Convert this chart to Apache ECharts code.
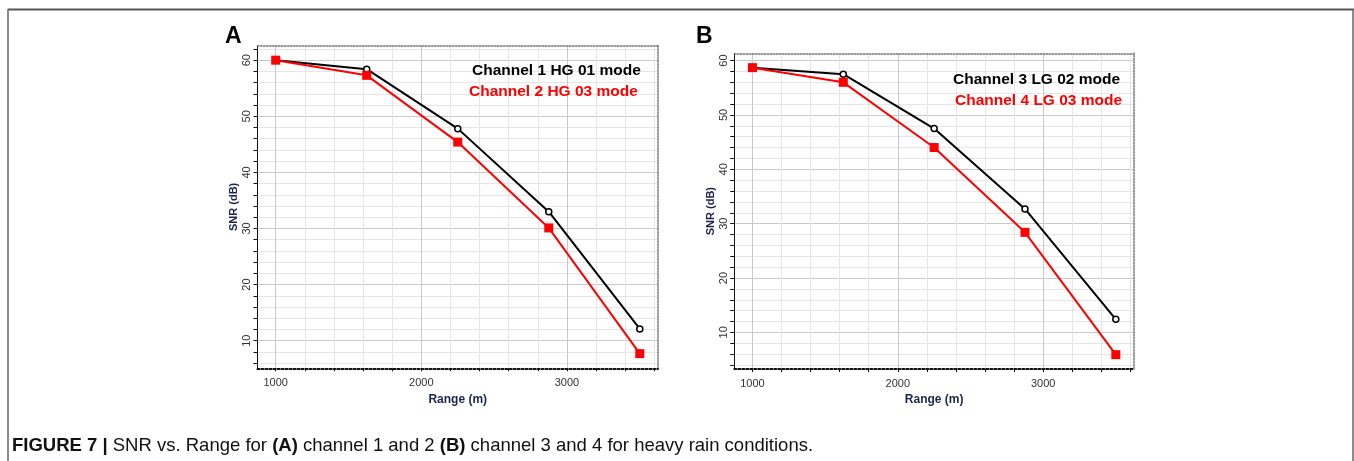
<!DOCTYPE html>
<html><head><meta charset="utf-8">
<script src="https://cdn.jsdelivr.net/npm/echarts@6/dist/echarts.min.js"></script>
<style>html,body{margin:0;padding:0;background:#fff}#c{width:1354px;height:461px}</style>
</head><body><div id="c"></div>
<script>
// ---- data ----
const rangeM = [1000, 1625, 2250, 2875, 3500];
const ch1 = [60, 58.4, 47.8, 33.0, 12.1];
const ch2 = [60, 57.3, 45.4, 30.1, 7.7];
const ch3 = [58.7, 57.5, 47.5, 32.7, 12.4];
const ch4 = [58.7, 56.0, 44.0, 28.4, 5.9];
const names = ['Channel 1 HG 01 mode', 'Channel 2 HG 03 mode', 'Channel 3 LG 02 mode', 'Channel 4 LG 03 mode'];
const xLabels = [1000, 2000, 3000];
const xTicks = [1000, 1200, 1400, 1600, 1800, 2000, 2200, 2400, 2600, 2800, 3000, 3200, 3400, 3600];
const yLabels = [10, 20, 30, 40, 50, 60];
const yTicks = [4, 6, 8, 10, 12, 14, 16, 18, 20, 22, 24, 26, 28, 30, 32, 34, 36, 38, 40, 42, 44, 46, 48, 50, 52, 54, 56, 58, 60, 62];
const xMin = 875, xMax = 3625;

const MAJOR = '#c9c9c9', MINOR = '#e6e6e6';
const FONT = 'Arial, "Liberation Sans", sans-serif';

function yRange(a, b) {
  const all = a.concat(b);
  const lo = Math.min(...all), hi = Math.max(...all);
  const pad = (hi - lo) * 0.05;
  return [lo - pad, hi + pad];
}

const grids = [
  {left: 257.5, top: 45.5, width: 400.5, height: 322.8},
  {left: 734.3, top: 53.3, width: 399.7, height: 315.7}
];
const panels = [[ch1, ch2], [ch3, ch4]];

const option = {
  animation: false,
  backgroundColor: '#fff',
  grid: grids,
  xAxis: [], yAxis: [], series: [], legend: [],
  graphic: []
};

panels.forEach((p, gi) => {
  const [ymin, ymax] = yRange(p[0], p[1]);
  const yt = yTicks.filter(v => v >= ymin && v <= ymax);
  const yColors = yt.slice(0, 5).map(v => (v % 10 === 0 ? MAJOR : MINOR));
  const xColors = xTicks.slice(0, 5).map(v => (v % 1000 === 0 ? MAJOR : MINOR));
  const xi = option.xAxis.length, yi = option.yAxis.length;
  option.xAxis.push({
    type: 'value', gridIndex: gi, min: xMin, max: xMax, position: 'bottom',
    name: 'Range (m)', nameLocation: 'middle', nameGap: 21,
    nameTextStyle: {fontFamily: FONT, fontWeight: 'bold', fontSize: 12, color: '#1c2452'},
    axisLine: {show: true, lineStyle: {color: '#111', width: 2, type: 'dotted'}},
    axisTick: {show: true, customValues: xTicks, length: 3, lineStyle: {color: '#111'}},
    axisLabel: {customValues: xLabels, margin: 9, fontFamily: FONT, fontSize: 11, color: '#333',
      formatter: v => String(v)},
    splitLine: {show: true, lineStyle: {color: xColors, width: 1}}
  });
  option.xAxis.push({
    type: 'value', gridIndex: gi, min: xMin, max: xMax, position: 'top',
    axisLine: {show: true, lineStyle: {color: '#777', width: 1.5, type: 'dotted'}},
    axisTick: {show: false}, axisLabel: {show: false}, splitLine: {show: false}
  });
  option.yAxis.push({
    type: 'value', gridIndex: gi, min: ymin, max: ymax, position: 'left',
    name: 'SNR (dB)', nameLocation: 'middle', nameGap: 18, nameRotate: 90,
    nameTextStyle: {fontFamily: FONT, fontWeight: 'bold', fontSize: 11, color: '#1c2452'},
    axisLine: {show: true, onZero: false, lineStyle: {color: '#111', width: 1}},
    axisTick: {show: true, customValues: yt, length: 4, lineStyle: {color: '#111'}},
    axisLabel: {customValues: yLabels, rotate: 90, margin: 5, fontFamily: FONT, fontSize: 11, color: '#333',
      formatter: v => String(v)},
    splitLine: {show: true, lineStyle: {color: yColors, width: 1}}
  });
  option.yAxis.push({
    type: 'value', gridIndex: gi, min: ymin, max: ymax, position: 'right',
    axisLine: {show: true, onZero: false, lineStyle: {color: '#777', width: 1.5, type: 'dotted'}},
    axisTick: {show: false}, axisLabel: {show: false}, splitLine: {show: false}
  });
  option.series.push({
    name: names[gi * 2], type: 'line', xAxisIndex: xi, yAxisIndex: yi,
    data: rangeM.map((x, i) => [x, p[0][i]]),
    symbol: 'circle', symbolSize: 6,
    itemStyle: {color: '#fff', borderColor: '#000', borderWidth: 1.5},
    lineStyle: {color: '#000', width: 2}, z: 3
  });
  option.series.push({
    name: names[gi * 2 + 1], type: 'line', xAxisIndex: xi, yAxisIndex: yi,
    data: rangeM.map((x, i) => [x, p[1][i]]),
    symbol: 'rect', symbolSize: 9,
    itemStyle: {color: '#ff0000'},
    lineStyle: {color: '#ff0000', width: 2}, z: 4
  });
});

const legendPos = [[467, 63], [464, 84], [948, 72], [950, 93]];
const legendColors = ['#000', '#ff0000', '#000', '#ff0000'];
names.forEach((n, i) => {
  option.legend.push({
    data: [{name: n, textStyle: {color: legendColors[i]}}],
    left: legendPos[i][0], top: legendPos[i][1], padding: 0,
    icon: 'none', itemWidth: 0, itemHeight: 14, selectedMode: false,
    textStyle: {fontFamily: FONT, fontWeight: 'bold', fontSize: 15.5}
  });
});

const CAP = 'Arial, "Liberation Sans", sans-serif';
option.graphic = [
  {type: 'line', shape: {x1: 8, y1: 9.5, x2: 1354, y2: 9.5}, style: {stroke: '#555', lineWidth: 2}, silent: true},
  {type: 'line', shape: {x1: 8, y1: 9, x2: 8, y2: 461}, style: {stroke: '#666', lineWidth: 1.5}, silent: true},
  {type: 'line', shape: {x1: 1353, y1: 9, x2: 1353, y2: 461}, style: {stroke: '#666', lineWidth: 1.5}, silent: true},
  {type: 'text', x: 225, y: 25, style: {text: 'A', font: 'bold 23px ' + FONT, fill: '#000'}},
  {type: 'text', x: 696, y: 25, style: {text: 'B', font: 'bold 23px ' + FONT, fill: '#000'}},
  {type: 'text', x: 12, y: 436, style: {
    text: '{b|FIGURE 7 |} {n|SNR vs. Range for} {b|(A)} {n|channel 1 and 2} {b|(B)} {n|channel 3 and 4 for heavy rain conditions.}',
    fontFamily: CAP, fontSize: 18.5, fill: '#111',
    rich: {
      b: {fontFamily: CAP, fontSize: 18.5, fontWeight: 'bold', fill: '#111'},
      n: {fontFamily: CAP, fontSize: 18.5, fill: '#111'}
    }
  }}
];

const chart = echarts.init(document.getElementById('c'), null, {renderer: 'canvas'});
chart.setOption(option);
</script>
</body></html>
